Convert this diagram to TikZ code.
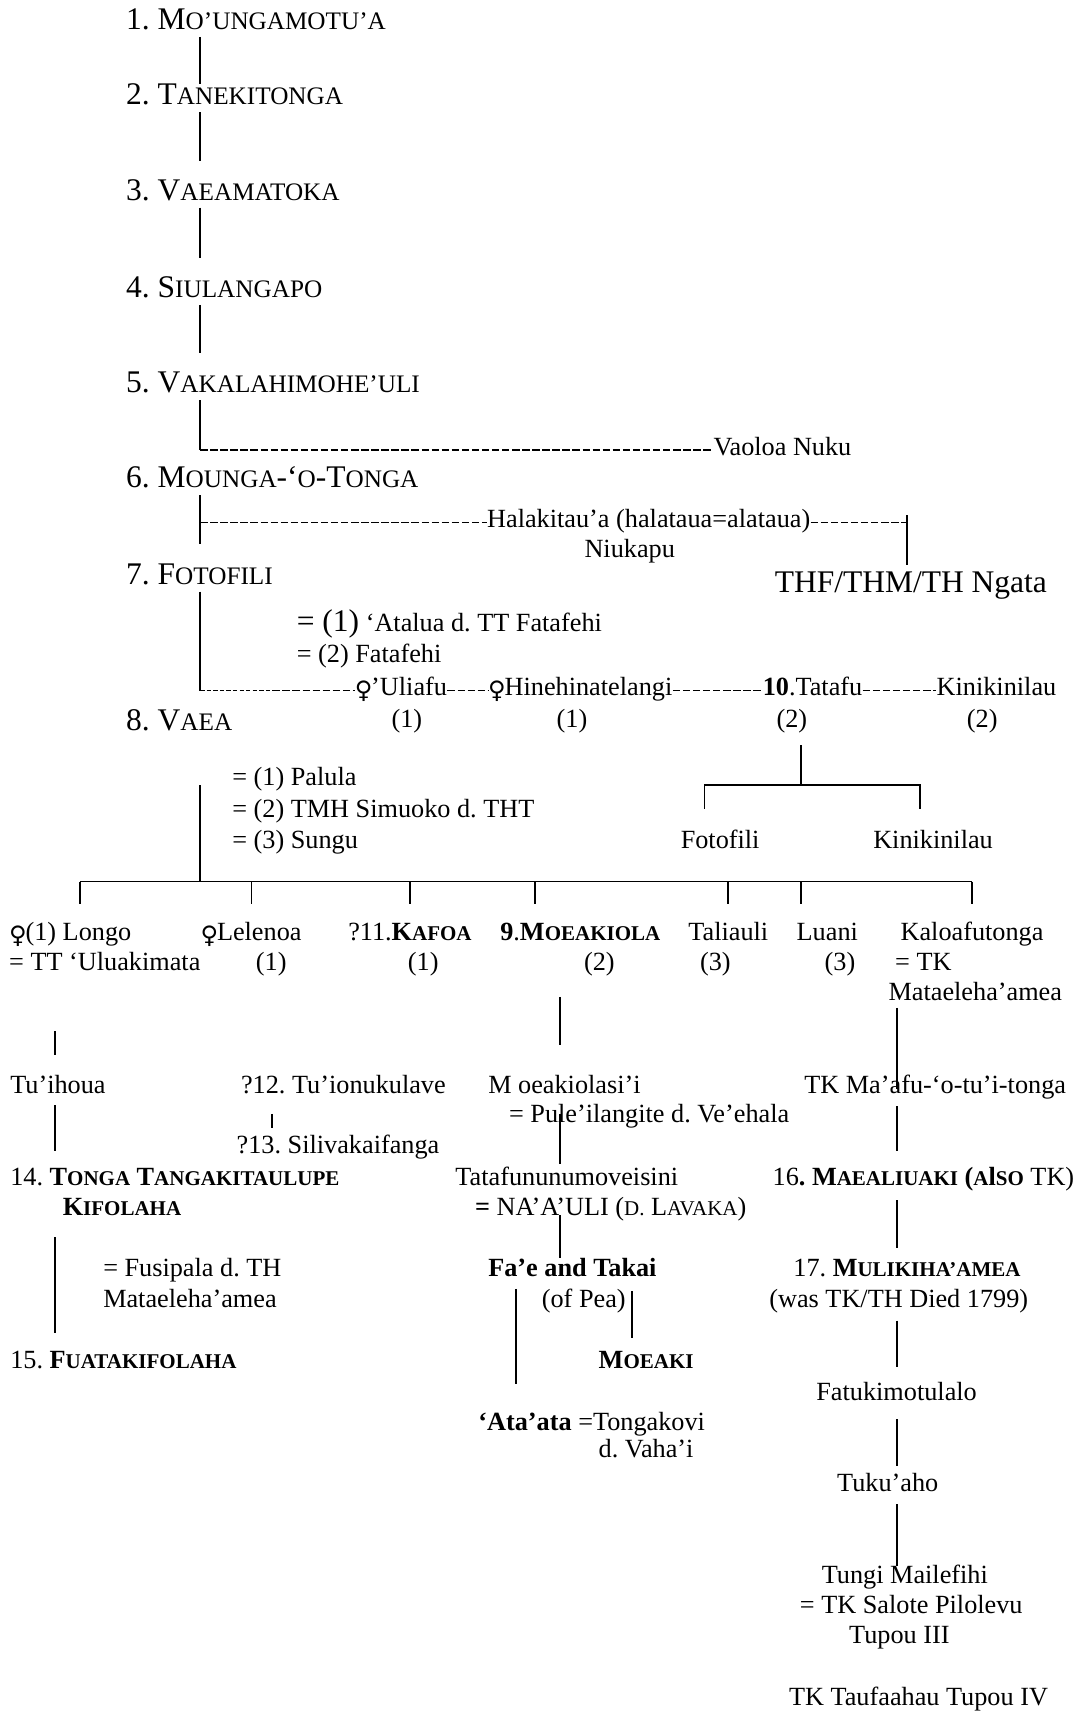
\documentclass[tikz,border=0pt]{standalone}
\usepackage{fontspec}
\setmainfont{Liberation Serif}
\newfontfamily\symfont{DejaVu Sans}
\usetikzlibrary{calc,positioning}
\def\lc#1{\scalebox{.8}{#1}}
\def\bigtx#1{{\fontsize{14.4}{17}\selectfont #1}}
\def\fem{\makebox[7pt]{\raisebox{-1.2pt}{\symfont\fontsize{11}{13}\selectfont ♀}}}
\frenchspacing

\begin{document}
\begin{tikzpicture}[x=0.5pt,y=-0.5pt,
		every node/.style={inner sep=0pt, anchor=base west, font=\fontsize{12}{14}\selectfont, text height=8pt, text depth=3pt},
		head/.style={font=\fontsize{14.4}{17}\selectfont, text height=9.5pt, text depth=3.2pt},
		mid/.style={anchor=base},
		kin/.style={line width=0.8pt},
		dashline/.style={line width=0.6pt, dash pattern=on 3.4pt off 1.2pt},
		faint/.style={line width=0.35pt, dash pattern=on 2pt off 1pt}]
			%%%%% START %%%%%
			\useasboundingbox (0,0) rectangle (983,1568);
			
			\coordinate (spine) at (183,0);
			\coordinate (mx) at (512,0);
			\coordinate (kx) at (820,0);
			
			\node[head] (h1) at (115,27) {1. M\lc{O’UNGAMOTU’A}};
			\node[head] (h2) at (115,96) {2. T\lc{ANEKITONGA}};
			\node[head] (h3) at (115,183) {3. V\lc{AEAMATOKA}};
			\node[head] (h4) at (115,272) {4. S\lc{IULANGAPO}};
			\node[head] (h5) at (115,359) {5. V\lc{AKALAHIMOHE’ULI}};
			\node (vn) at (652,416) {Vaoloa Nuku};
			\node[head] (h6) at (115,446) {6. M\lc{OUNGA}-‘\lc{O}-T\lc{ONGA}};
			\node (hala) at (445,482) {Halakitau’a (halataua=alataua)};
			\node (niu) at (534,510) {Niukapu};
			\node[head] (h7) at (115,534) {7. F\lc{OTOFILI}};
			\node[head] (ngata) at (708,542) {THF/THM/TH Ngata};
			\node[head] (h8) at (115,668) {8. V\lc{AEA}};
			
			\draw[kin] (spine |- h1.south) -- (spine |- h2.north);
			\draw[kin, shorten >=8pt] (spine |- h2.south) -- (spine |- h3.north);
			\draw[kin, shorten >=8.5pt] (spine |- h3.south) -- (spine |- h4.north);
			\draw[kin, shorten >=8.5pt] (spine |- h4.south) -- (spine |- h5.north);
			\draw[kin] (spine |- h5.south) -- (spine |- vn.mid west);
			\draw[dashline] (spine |- vn.mid west) -- (vn.mid west);
			\draw[kin, shorten >=8.5pt] (spine |- h6.south) -- (spine |- h7.north);
			\draw[dashline] (spine |- hala.mid west) -- (hala.mid west);
			\coordinate (tk) at (829,471);
			\draw[dashline] (hala.mid east) -- (tk |- hala.mid east);
			\draw[kin, shorten >=3pt] (tk) -- (tk |- ngata.north);
			
			% wives of Fotofili and their line
			\node (w1) at (271,577) {\bigtx{= (1)} ‘Atalua d. TT Fatafehi};
			\node (w2) at (271,606) {= (2) Fatafehi};
			\node (ul) at (325,636) {\fem’Uliafu};
			\node (hi) at (447,636) {\fem Hinehinatelangi};
			\node (ta) at (697,636) {\textbf{10}.Tatafu};
			\node (ki) at (856,636) {Kinikinilau};
			\node[mid] (up) at (372,665) {(1)};
			\node[mid] (hp) at (523,665) {(1)};
			\node[mid] (tp) at (724,665) {(2)};
			\node[mid] (kp) at (898,665) {(2)};
			
			\draw[kin] (spine |- h7.south) -- (spine |- ul.mid west) coordinate (c7);
			\draw[faint] (c7) -- ++(66,0) coordinate (c7b);
			\draw[dashline] (c7b) -- (ul.mid west);
			\draw[dashline] (ul.mid east) -- (hi.mid west);
			\draw[dashline] (hi.mid east) -- (ta.mid west);
			\draw[dashline] (ta.mid east) -- (ki.mid west);
			
			\node (fo) at (622,776) {Fotofili};
			\node (kk) at (798,776) {Kinikinilau};
			\coordinate (tbar) at (732,718);
			\coordinate (fl) at (644,718);
			\coordinate (fr) at (841,718);
			\draw[kin, shorten <=5pt] (tbar |- tp.south) -- (tbar);
			\draw[kin, shorten <=10pt, shorten >=10pt] (fl |- fo.north) -- (fl) -- (fr) -- (fr |- kk.north);
			
			% wives and children of Vaea
			\node (pa1) at (212,718) {= (1) Palula};
			\node (pa2) at (212,747) {= (2) TMH Simuoko d. THT};
			\node (pa3) at (212,776) {= (3) Sungu};
			
			\node (longo) at (9,860) {\fem(1) Longo};
			\node (lele) at (184,860) {\fem Lelenoa};
			\node (kafoa) at (318,860) {?11.\textbf{K\lc{AFOA}}};
			\node (moea) at (457,860) {\textbf{9}.\textbf{M\lc{OEAKIOLA}}};
			\node (tali) at (629,860) {Taliauli};
			\node (luani) at (728,860) {Luani};
			\node (kalo) at (823,860) {Kaloafutonga};
			\node (uluak) at (8,887) {= TT ‘Uluakimata};
			\node[mid] (lp) at (248,887) {(1)};
			\node[mid] (kfp) at (387,887) {(1)};
			\node[mid] (mp) at (548,887) {(2)};
			\node[mid] (tlp) at (654,887) {(3)};
			\node[mid] (lup) at (768,887) {(3)};
			\node (tk1) at (818,887) {= TK};
			\node (mat) at (812,915) {Mataeleha’amea};
			
			\coordinate (bar) at (183,806);
			\coordinate (bl) at (73,806);
			\coordinate (dm) at (489,806);
			\coordinate (dl) at (732,806);
			\draw[kin] (spine |- pa1.base) -- (bar);
			\draw[kin] (bl) -- (kalo.north |- bar);
			\draw[kin, shorten >=8.5pt] (bl) -- (bl |- longo.north);
			\draw[kin, shorten >=8.5pt] (lele.north |- bar) -- (lele.north);
			\draw[kin, shorten >=8.5pt] (kafoa.north |- bar) -- (kafoa.north);
			\draw[kin, shorten >=8.5pt] (dm) -- (dm |- moea.north);
			\draw[kin, shorten >=8.5pt] (tali.north |- bar) -- (tali.north);
			\draw[kin, shorten >=8.5pt] (dl) -- (dl |- luani.north);
			\draw[kin, shorten >=8.5pt] (kalo.north |- bar) -- (kalo.north);
			
			% left line
			\node (tuih) at (9,1000) {Tu’ihoua};
			\node (t12) at (220,1000) {?12. Tu’ionukulave};
			\node (t13) at (216,1055) {?13. Silivakaifanga};
			\node (tonga) at (9,1084) {14. \textbf{T\lc{ONGA} T\lc{ANGAKITAULUPE}}};
			\node (kif) at (57,1111) {\textbf{K\lc{IFOLAHA}}};
			\node (fus) at (94,1167) {= Fusipala d. TH};
			\node (mat2) at (94,1195) {Mataeleha’amea};
			\node (fua) at (9,1251) {15. \textbf{F\lc{UATAKIFOLAHA}}};
			
			\coordinate (lx) at (50,943);
			\draw[kin, shorten >=9.5pt] (lx) -- (lx |- tuih.north);
			\draw[kin, shorten <=2pt, shorten >=7.5pt] (lx |- tuih.south) -- (lx |- tonga.north);
			\draw[kin, shorten <=7pt, shorten >=8pt] (lx |- kif.south) -- (lx |- fua.north);
			\draw[kin, shorten <=6pt, shorten >=3.5pt] (249,0 |- t12.south) -- (249,0 |- t13.north);
			
			% middle line
			\node (ms) at (446,1000) {M oeakiolasi’i};
			\node (pule) at (465,1026) {= Pule’ilangite d. Ve’ehala};
			\node (tf) at (416,1084) {Tatafununumoveisini};
			\node (na) at (434,1111) {\textbf{=} NA’A’ULI (\lc{D.} L\lc{AVAKA})};
			\node (ftk) at (446,1167) {\textbf{Fa’e and Takai}};
			\node (pea) at (495,1195) {(of Pea)};
			\node (moeaki) at (547,1251) {\textbf{M\lc{OEAKI}}};
			\node (ata) at (437,1308) {\textbf{‘Ata’ata} =Tongakovi};
			\node (vaha) at (547,1333) {d. Vaha’i};
			
			\draw[kin, shorten <=9pt, shorten >=14pt] (mx |- mp.south) -- (mx |- ms.north);
			\draw[kin, shorten <=6pt, shorten >=1.5pt] (mx |- ms.south) -- (mx |- tf.north);
			\draw[kin] (mx |- na.base) -- (mx |- ftk.north);
			\coordinate (fx) at (472,0);
			\coordinate (px) at (578,0);
			\draw[kin, shorten <=2.5pt, shorten >=13pt] (fx |- ftk.south) -- (fx |- ata.north);
			\draw[kin, shorten <=3.5pt, shorten >=5.5pt] (px |- ftk.south) -- (px |- moeaki.north);
			
			% right line
			\node (maafu) at (735,1000) {TK Ma’afu-‘o-tu’i-tonga};
			\node (m16) at (706,1084) {16\textbf{. M\lc{AEALIUAKI} (\lc{A}l\lc{SO}} TK)};
			\node (m17) at (725,1167) {17. \textbf{M\lc{ULIKIHA’AMEA}}};
			\node (was) at (703,1195) {(was TK/TH Died 1799)};
			\node (fatu) at (746,1280) {Fatukimotulalo};
			\node (tuku) at (765,1364) {Tuku’aho};
			\node (tungi) at (751,1448) {Tungi Mailefihi};
			\node (salote) at (731,1475) {= TK Salote Pilolevu};
			\node (tupou) at (776,1503) {Tupou III};
			\node (iv) at (721,1559) {TK Taufaahau Tupou IV};
			
			\draw[kin] (kx |- mat.south) -- (kx |- maafu.mid);
			\draw[kin, shorten <=2.5pt, shorten >=7.5pt] (kx |- maafu.south) -- (kx |- m16.north);
			\draw[kin, shorten <=3.5pt, shorten >=5pt] (kx |- m16.south) -- (kx |- m17.north);
			\draw[kin, shorten <=3pt, shorten >=7pt] (kx |- was.south) -- (kx |- fatu.north);
			\draw[kin, shorten <=5.5pt, shorten >=3.5pt] (kx |- fatu.south) -- (kx |- tuku.north);
			\draw[kin, shorten <=2.5pt] (kx |- tuku.south) -- (kx |- tungi.north);
			%%%%% END %%%%%
\end{tikzpicture}
\end{document}
